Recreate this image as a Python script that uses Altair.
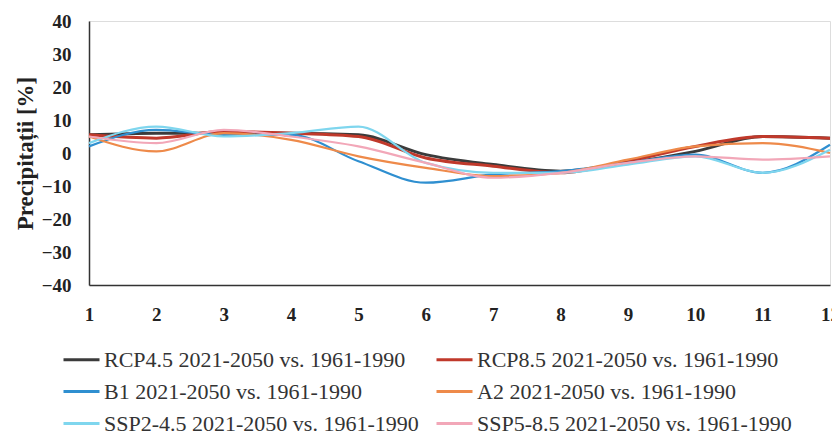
import altair as alt
import pandas as pd

months = list(range(1, 13))
series_names = [
    "RCP4.5 2021-2050 vs. 1961-1990",
    "RCP8.5 2021-2050 vs. 1961-1990",
    "B1 2021-2050 vs. 1961-1990",
    "A2 2021-2050 vs. 1961-1990",
    "SSP2-4.5 2021-2050 vs. 1961-1990",
    "SSP5-8.5 2021-2050 vs. 1961-1990",
]
rcp45 = [5.5, 6.0, 6.0, 6.0, 5.5, -0.5, -3.5, -5.5, -3.0, 0.5, 5.0, 4.5]
rcp85 = [5.5, 4.5, 6.5, 6.0, 5.0, -1.5, -4.0, -6.0, -2.5, 2.0, 5.0, 4.5]
b1 = [2.0, 7.0, 5.5, 5.5, -2.5, -9.0, -6.5, -5.5, -3.0, -0.5, -6.0, 2.5]
a2 = [5.0, 0.5, 6.0, 4.0, -1.0, -4.5, -7.0, -6.0, -2.0, 2.0, 3.0, 0.0]
ssp245 = [3.0, 8.0, 5.0, 6.0, 8.0, -3.0, -6.0, -6.0, -3.5, -1.0, -6.0, 1.0]
ssp585 = [5.0, 3.0, 7.0, 5.0, 2.0, -3.0, -7.5, -6.0, -3.0, -1.0, -2.0, -1.0]
colors = ["#3b3b3b", "#c0392b", "#2f8fd0", "#ee8a4a", "#7fd6ee", "#f2a7b8"]
widths = [3.0, 3.0, 2.2, 2.2, 2.2, 2.2]

# legend is filled column by column: order so rows read as in the reference
legend_order = [series_names[i] for i in (0, 2, 4, 1, 3, 5)]
legend_colors = [colors[i] for i in (0, 2, 4, 1, 3, 5)]

values = [rcp45, rcp85, b1, a2, ssp245, ssp585]
rows = []
for name, vals, w in zip(series_names, values, widths):
    for m, v in zip(months, vals):
        rows.append({"Luna": m, "Valoare": v, "Serie": name, "W": w})
df = pd.DataFrame(rows)

font = "Liberation Serif"

chart = alt.Chart(df).mark_line(interpolate="monotone").encode(
    x=alt.X("Luna:Q", scale=alt.Scale(domain=[1, 12], nice=False),
            axis=alt.Axis(values=months, format="d", title=None, ticks=False,
                          grid=False, labelPadding=20, labelFontSize=19,
                          labelFontWeight="bold", labelFont=font,
                          labelColor="#222", domainColor="#333", domainWidth=1.5,
                          labelFlush=False)),
    y=alt.Y("Valoare:Q", scale=alt.Scale(domain=[-40, 40], nice=False),
            axis=alt.Axis(values=list(range(-40, 41, 10)), title="Precipitații [%]",
                          ticks=False, grid=False, labelPadding=18, labelFontSize=19,
                          labelFontWeight="bold", labelFont=font, labelColor="#222",
                          titleFont=font, titleFontSize=23, titleFontWeight="bold",
                          titleColor="#222", titlePadding=4,
                          domainColor="#333", domainWidth=1.5)),
    color=alt.Color("Serie:N", sort=legend_order,
                    scale=alt.Scale(domain=legend_order, range=legend_colors),
                    legend=alt.Legend(title=None, orient="none", legendX=-27, legendY=319,
                                      columns=2, columnPadding=11, rowPadding=1,
                                      symbolType="stroke", symbolSize=1296,
                                      symbolStrokeWidth=3, labelFont=font,
                                      labelFontSize=22, labelColor="#333",
                                      labelOffset=3, labelLimit=400)),
    strokeWidth=alt.StrokeWidth("W:Q", scale=None, legend=None),
).properties(
    width=741, height=264,
    autosize=alt.AutoSizeParams(type="none"),
    padding={"left": 81, "top": 13, "right": 2, "bottom": 150},
).configure_view(stroke="#888", strokeWidth=1.2).configure(background="white")

chart.save("out.html", embed_options={"renderer": "svg", "actions": False})
